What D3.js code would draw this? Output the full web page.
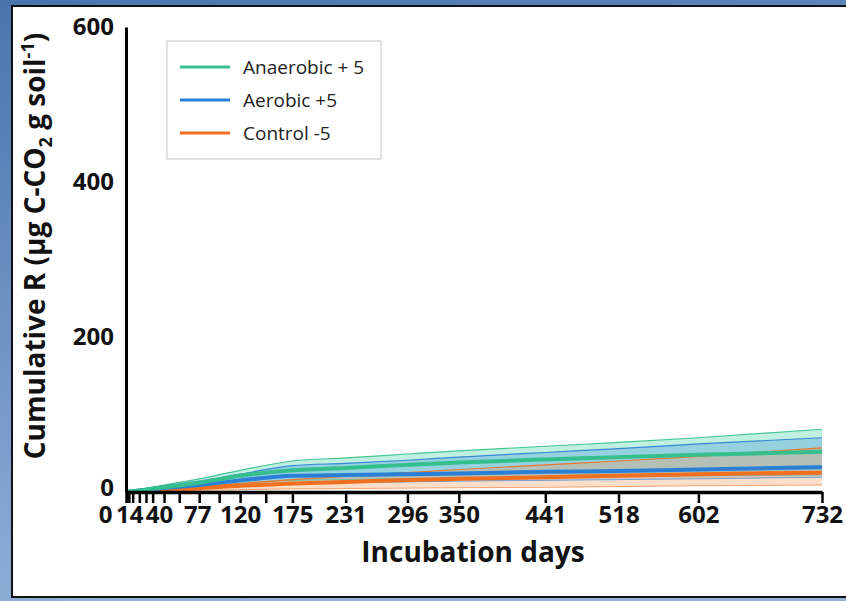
<!DOCTYPE html>
<html><head><meta charset="utf-8">
<script src="https://cdn.jsdelivr.net/npm/d3@7"></script>
<style>body{margin:0;padding:0;overflow:hidden;} svg{display:block;}</style>
</head><body>
<svg id="chart" width="846" height="601"></svg>
<script>
// ---- data ----
const days = [0, 14, 40, 77, 120, 175, 231, 296, 350, 441, 518, 602, 732];
const tickDays = [0, 1, 3, 7, 14, 21, 28, 40, 56, 77, 98, 120, 147, 175, 231, 296, 350, 441, 518, 602, 732];
const labelDays = [0, 14, 40, 77, 120, 175, 231, 296, 350, 441, 518, 602, 732];
const yTicks = [0, 200, 400, 600];
const seriesNames = ["Anaerobic + 5", "Aerobic +5", "Control -5"];

const anaerobicMean  = [0, 2, 6, 12, 21, 28, 31, 35, 38, 42, 45, 48, 52];
const anaerobicUpper = [0, 3, 9, 17, 28, 40, 44, 49, 53, 59, 64, 70, 81];
const anaerobicLower = [0, 1, 3, 6, 11, 15, 16, 17, 18, 19, 20, 21, 22];

const aerobicMean  = [0, 2, 5, 9, 15, 21, 22, 23, 24, 26, 27, 29, 32];
const aerobicUpper = [0, 3, 8, 14, 23, 34, 37, 41, 45, 51, 56, 62, 70];
const aerobicLower = [0, 1, 3, 5, 8, 11, 12, 13, 14, 15, 16, 17, 19];

const controlMean  = [0, 1, 2.5, 5, 8, 11, 13, 15.5, 17, 19, 21, 23, 25];
const controlUpper = [0, 1.5, 4, 7, 11, 16, 20, 25, 29, 35, 40, 46, 57];
const controlLower = [0, 0.5, 1, 2, 3, 4, 4.5, 5, 5.5, 6, 7, 8, 9];

// ---- styles ----
const colors = ["#35bf8c", "#2a7fd6", "#f0701f"];
const fills  = ["#3ccf9c", "#3a8fe0", "#f59a5c"];

const svg = d3.select("#chart");
const defs = svg.append("defs");
const grad = defs.append("linearGradient").attr("id","bg").attr("x1","0").attr("y1","0").attr("x2","0.3").attr("y2","1");
grad.append("stop").attr("offset","0").attr("stop-color","#4a74ae");
grad.append("stop").attr("offset","1").attr("stop-color","#92b2da");
svg.append("rect").attr("width",846).attr("height",601).attr("fill","url(#bg)");
svg.append("rect").attr("x",12).attr("y",6).attr("width",860).attr("height",591)
  .attr("fill","#fff").attr("stroke","#111").attr("stroke-width",2);

const x = d3.scaleLinear().domain([0, 732]).range([126, 822]);
const y = d3.scaleLinear().domain([0, 600]).range([492, 27]);

const series = [
  {mean: anaerobicMean, up: anaerobicUpper, lo: anaerobicLower},
  {mean: aerobicMean, up: aerobicUpper, lo: aerobicLower},
  {mean: controlMean, up: controlUpper, lo: controlLower}
];

const area = d3.area().x((d,i)=>x(days[i])).y0(d=>y(d[0])).y1(d=>y(d[1])).curve(d3.curveMonotoneX);
const line = d3.line().x((d,i)=>x(days[i])).y(d=>y(d)).curve(d3.curveMonotoneX);

const g = svg.append("g");
series.forEach((s,k)=>{
  g.append("path").attr("d", area(s.lo.map((v,i)=>[v, s.up[i]])))
    .attr("fill", fills[k]).attr("fill-opacity", 0.32);
});
series.forEach((s,k)=>{
  g.append("path").attr("d", line(s.up)).attr("fill","none").attr("stroke",colors[k]).attr("stroke-width",1.2).attr("stroke-opacity",0.9);
  g.append("path").attr("d", line(s.lo)).attr("fill","none").attr("stroke",colors[k]).attr("stroke-width",1).attr("stroke-opacity",0.6);
});
[2,1,0].forEach(k=>{
  g.append("path").attr("d", line(series[k].mean)).attr("fill","none").attr("stroke",colors[k]).attr("stroke-width",4);
});

// ---- axes ----
const labelShift = {0:-21, 14:-10, 40:-5, 77:-2};
const xAxis = d3.axisBottom(x).tickValues(tickDays).tickSize(11).tickSizeOuter(0)
  .tickFormat(d => labelDays.includes(d) ? String(d) : "");
const xg = svg.append("g").attr("transform","translate(0,492)").call(xAxis);
xg.select(".domain").attr("stroke","#000").attr("stroke-width",3.5);
xg.selectAll(".tick line").attr("stroke","#000").attr("stroke-width",2.5);
xg.selectAll(".tick text").attr("fill","#111").attr("font-family","'Open Sans'").attr("font-weight","bold")
  .attr("font-size",24).attr("y",14).attr("dy","0.71em")
  .attr("dx", d => (labelShift[d]||0));

const yAxis = d3.axisLeft(y).tickValues(yTicks).tickSize(0).tickPadding(12);
const yg = svg.append("g").attr("transform","translate(126,0)").call(yAxis);
yg.select(".domain").attr("stroke","#000").attr("stroke-width",3);
yg.selectAll(".tick text").attr("fill","#111").attr("font-family","'Open Sans'").attr("font-weight","bold").attr("font-size",24)
  .attr("dy", d => d === 0 ? "0.15em" : "0.32em");

// axis titles
svg.append("text").attr("x",473).attr("y",562).attr("text-anchor","middle")
  .attr("font-family","'Open Sans'").attr("font-weight","bold").attr("font-size",28).attr("fill","#111")
  .text("Incubation days");

const yt = svg.append("text").attr("transform","translate(45,246) rotate(-90)").attr("text-anchor","middle")
  .attr("font-family","'Open Sans'").attr("font-weight","bold").attr("font-size",28).attr("fill","#111");
yt.append("tspan").text("Cumulative R (µg C-CO");
yt.append("tspan").attr("font-size",18).attr("dy",7).text("2");
yt.append("tspan").attr("dy",-7).text(" g soil");
yt.append("tspan").attr("font-size",18).attr("dy",-11).text("-1");
yt.append("tspan").attr("dy",11).text(")");

// legend
const lg = svg.append("g");
lg.append("rect").attr("x",167).attr("y",41).attr("width",214).attr("height",118)
  .attr("fill","#fff").attr("stroke","#cfcfcf").attr("stroke-width",1.2);
seriesNames.forEach((n,k)=>{
  const yy = 67 + k*33;
  lg.append("line").attr("x1",180).attr("x2",230).attr("y1",yy).attr("y2",yy).attr("stroke",colors[k]).attr("stroke-width",3);
  lg.append("text").attr("x",243).attr("y",yy).attr("dy","0.35em").attr("font-family","'Open Sans'")
    .attr("font-size",19).attr("fill","#222").text(n);
});
</script>
</body></html>
